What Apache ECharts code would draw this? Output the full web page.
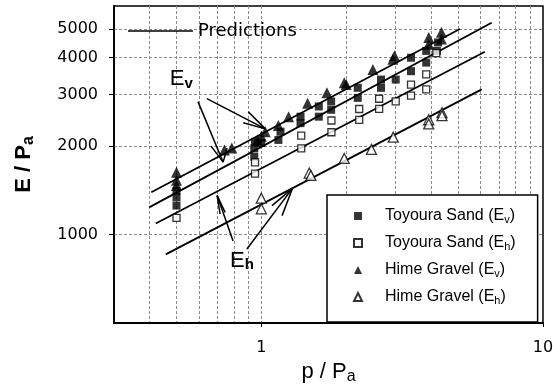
<!DOCTYPE html>
<html>
<head>
<meta charset="utf-8">
<script src="https://cdn.jsdelivr.net/npm/echarts@6/dist/echarts.min.js"></script>
<style>
  html, body { margin: 0; padding: 0; background: #fff; }
  #chart { width: 553px; height: 387px; }
</style>
</head>
<body>
<div id="chart"></div>
<script>
// Measured stiffness vs. confining pressure, [p/Pa, E/Pa]
const toyouraEv = [[0.5,1410],[0.5,1340],[0.5,1255],[0.944,1840],[0.944,1966],[0.95,2070],[1.0,2050],
  [1.15,2100],[1.17,2240],[1.378,2395],[1.378,2520],[1.6,2520],[1.6,2730],[1.77,2660],[1.77,2840],
  [2.2,3160],[2.2,2920],[2.66,3370],[2.66,3160],[3.0,3370],[3.4,4000],[3.4,3600],[3.85,4220],
  [3.85,3850],[4.2,4220],[4.24,4510]];
const toyouraEh = [[0.5,1140],[0.95,1760],[0.95,1613],[1.386,2172],[1.386,1966],[1.774,2445],
  [1.774,2230],[2.226,2676],[2.226,2459],[2.62,2900],[2.62,2680],[3.0,2840],[3.4,3240],[3.4,2970],
  [3.85,3510],[3.85,3120],[4.18,4150]];
const himeEv = [[0.5,1630],[0.5,1530],[0.5,1470],[0.74,1940],[0.786,1970],[0.97,2100],[1.0,2160],
  [1.033,2240],[1.15,2350],[1.25,2520],[1.46,2800],[1.71,3040],[1.97,3290],[2.0,3240],[2.49,3650],
  [2.93,3950],[2.97,4060],[3.93,4690],[3.93,4450],[4.36,4880],[4.36,4630]];
const himeEh = [[1.0,1330],[1.0,1224],[1.48,1620],[1.5,1590],[1.97,1816],[2.46,1950],[2.94,2145],
  [3.93,2460],[3.93,2380],[4.38,2600],[4.38,2540]];

// Prediction lines (end points)
const predHimeEv = [[0.407,1394],[5.07,5010]];
const predToyouraEv = [[0.40,1238],[6.57,5260]];
const predToyouraEh = [[0.422,1091],[6.22,4190]];
const predHimeEh = [[0.458,856],[6.06,3120]];

// Axis ticks
const xLabelTicks = [1, 10];
const xGridTicks = [0.4,0.5,0.6,0.7,0.8,0.9,1,2,3,4,5,6,7,8,9];
const yTicks = [1000, 2000, 3000, 4000, 5000];

// Annotation arrows: [tail, tip, barb1, barb2] in data units
const arrows = [
  [[0.596,2836],[0.732,1764],[0.663,2000],[0.756,1970]],
  [[0.641,2904],[1.033,2290],[0.899,2619],[0.863,2401]],
  [[0.794,951],[0.697,1358],[0.714,1175],[0.744,1190]],
  [[0.889,893],[1.29,1436],[1.092,1255],[1.185,1160]]
];
const annLabels = [
  { at: [0.473, 3375], main: 'E', sub: 'v' },
  { at: [0.775, 815], main: 'E', sub: 'h' }
];

const legendParts = {
  'Toyoura Sand (Ev)': ['Toyoura Sand (E', 'v'],
  'Toyoura Sand (Eh)': ['Toyoura Sand (E', 'h'],
  'Hime Gravel (Ev)': ['Hime Gravel (E', 'v'],
  'Hime Gravel (Eh)': ['Hime Gravel (E', 'h']
};

const FONT = 'Liberation Sans, Arial, sans-serif';
const gridLine = { show: true, lineStyle: { color: '#8a8a8a', width: 1, type: [3, 2] } };

const chart = echarts.init(document.getElementById('chart'), null, { renderer: 'canvas' });

function predLine(data) {
  return {
    name: 'Predictions', type: 'line', data: data, symbol: 'none', silent: true,
    lineStyle: { color: '#000', width: 1.8 }, itemStyle: { color: '#000' }, z: 2
  };
}
function scatter(name, data, symbol, size, filled) {
  return {
    name: name, type: 'scatter', data: data, symbol: symbol, symbolSize: size, z: 3,
    itemStyle: filled ? { color: '#000' } : { color: '#fff', borderColor: '#000', borderWidth: 1.3 }
  };
}

chart.setOption({
  animation: false,
  backgroundColor: '#fff',
  grid: {
    left: 114, right: 10, top: 6, bottom: 64, show: true,
    borderColor: '#000', borderWidth: 1.5, outerBoundsMode: 'none'
  },
  xAxis: [{
    type: 'log', logBase: 10, min: 0.3, max: 10,
    name: '{a|p / P}{s|a}', nameLocation: 'middle', nameGap: 31,
    nameTextStyle: {
      rich: {
        a: { fontFamily: FONT, fontSize: 22, color: '#000', lineHeight: 26 },
        s: { fontFamily: FONT, fontSize: 16, color: '#000', lineHeight: 8, verticalAlign: 'bottom' }
      }
    },
    axisLine: { show: true, lineStyle: { color: '#000', width: 1.8 } },
    axisTick: { show: true, length: 4, customValues: xLabelTicks, lineStyle: { color: '#000' } },
    axisLabel: { customValues: xLabelTicks, margin: 17, fontFamily: 'DejaVu Sans', fontSize: 16, color: '#000',
      formatter: v => String(v) },
    splitLine: { show: false }
  }, {
    type: 'log', logBase: 10, min: 0.3, max: 10, position: 'bottom',
    axisLine: { show: false },
    axisTick: { show: false, customValues: xGridTicks },
    axisLabel: { show: false, customValues: xGridTicks },
    splitLine: gridLine
  }],
  yAxis: {
    type: 'log', logBase: 10, min: 500, max: 6000,
    name: '{a|E / P}{s|a}', nameLocation: 'middle', nameGap: 77,
    nameTextStyle: {
      rich: {
        a: { fontFamily: FONT, fontSize: 22, fontWeight: 'bold', color: '#000', lineHeight: 26 },
        s: { fontFamily: FONT, fontSize: 16, fontWeight: 'bold', color: '#000', lineHeight: 8, verticalAlign: 'bottom' }
      }
    },
    axisLine: { show: true, lineStyle: { color: '#000', width: 1.8 } },
    axisTick: { show: true, length: 5, customValues: yTicks, lineStyle: { color: '#000' } },
    axisLabel: { customValues: yTicks, margin: 16, fontFamily: 'DejaVu Sans', fontSize: 16, color: '#000',
      formatter: v => String(v) },
    splitLine: gridLine
  },
  legend: [{
    data: [{ name: 'Predictions', icon: 'rect' }], left: 128, top: 21, padding: 0,
    itemWidth: 65, itemHeight: 1.6, selectedMode: false,
    itemStyle: { color: '#000' },
    textStyle: { fontFamily: 'DejaVu Sans', fontSize: 18, color: '#000', lineHeight: 20 }
  }, {
    data: ['Toyoura Sand (Ev)', 'Toyoura Sand (Eh)', 'Hime Gravel (Ev)', 'Hime Gravel (Eh)'],
    orient: 'vertical', left: 327, top: 195, padding: [13, 22, 16, 26],
    itemWidth: 8, itemHeight: 8, itemGap: 10, selectedMode: false,
    backgroundColor: '#fff', borderColor: '#000', borderWidth: 1.5,
    formatter: function (name) {
      const p = legendParts[name];
      return '{g|}{a|' + p[0] + '}{s|' + p[1] + '}{a|)}';
    },
    textStyle: {
      rich: {
        g: { width: 18, lineHeight: 18 },
        a: { fontFamily: FONT, fontSize: 16, color: '#000', lineHeight: 18 },
        s: { fontFamily: FONT, fontSize: 11, color: '#000', lineHeight: 6, verticalAlign: 'bottom' }
      }
    }
  }],
  series: [
    predLine(predHimeEv), predLine(predToyouraEv), predLine(predToyouraEh), predLine(predHimeEh),
    scatter('Toyoura Sand (Ev)', toyouraEv, 'rect', 8, true),
    scatter('Toyoura Sand (Eh)', toyouraEh, 'rect', 7, false),
    scatter('Hime Gravel (Ev)', himeEv, 'triangle', 11, true),
    scatter('Hime Gravel (Eh)', himeEh, 'triangle', 10, false)
  ]
});

// Annotation arrows and E_v / E_h labels placed through the axes
const toPx = d => chart.convertToPixel({ xAxisIndex: 0, yAxisIndex: 0 }, d);
const graphics = [];
arrows.forEach(a => {
  const tail = toPx(a[0]), tip = toPx(a[1]);
  [tail, toPx(a[2]), toPx(a[3])].forEach(from => {
    graphics.push({
      type: 'line', silent: true, z: 10,
      shape: { x1: from[0], y1: from[1], x2: tip[0], y2: tip[1] },
      style: { stroke: '#000', lineWidth: 1.5 }
    });
  });
});
annLabels.forEach(l => {
  const p = toPx(l.at);
  graphics.push({
    type: 'text', x: p[0], y: p[1], silent: true, z: 10,
    style: {
      text: '{e|' + l.main + '}{s|' + l.sub + '}',
      align: 'left', verticalAlign: 'middle',
      rich: {
        e: { fontFamily: FONT, fontSize: 22, fill: '#000', lineHeight: 24 },
        s: { fontFamily: FONT, fontSize: 15, fontWeight: 'bold', fill: '#000', lineHeight: 6, verticalAlign: 'bottom' }
      }
    }
  });
});
chart.setOption({ graphic: graphics });
</script>
</body>
</html>
